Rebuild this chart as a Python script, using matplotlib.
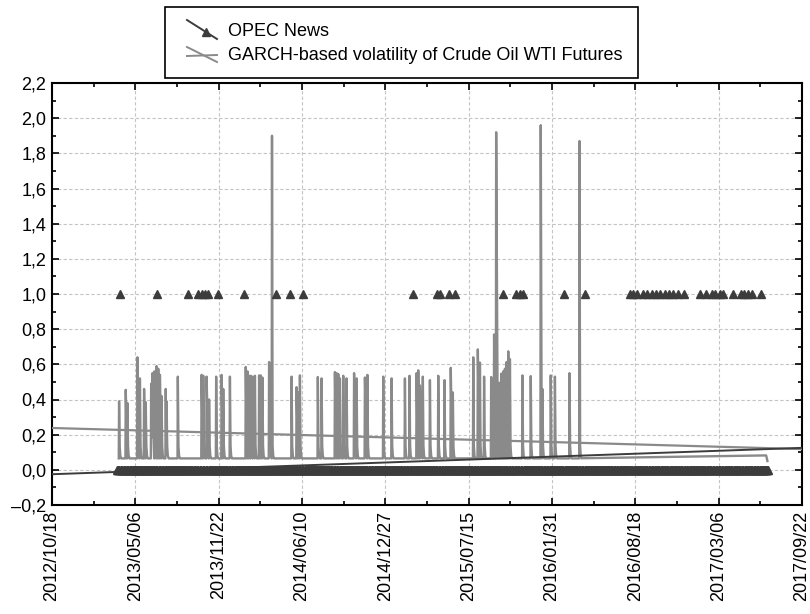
import numpy as np
import pandas as pd
import matplotlib
matplotlib.use("Agg")
import matplotlib.pyplot as plt
import matplotlib.dates as mdates
from matplotlib.lines import Line2D
from matplotlib.patches import Rectangle
from matplotlib.ticker import FuncFormatter, MultipleLocator

plt.rcParams['font.family'] = ['Liberation Sans', 'DejaVu Sans']

# --- data ---
# OPEC News: 0 on every trading day, 1 on news days
opec_first_day = "2013-03-22"
opec_last_day = "2017-07-03"
opec_news_dates = [
    "2013-03-29", "2013-06-27", "2013-09-09", "2013-10-03", "2013-10-14",
    "2013-10-21", "2013-10-28", "2013-11-20", "2014-01-22", "2014-04-09",
    "2014-05-12", "2014-06-12", "2015-03-04", "2015-04-29", "2015-05-07",
    "2015-05-29", "2015-06-12", "2015-10-06", "2015-11-05", "2015-11-16",
    "2015-11-23", "2016-02-29", "2016-04-18",
    "2016-08-04", "2016-08-12", "2016-08-23", "2016-09-06", "2016-09-16",
    "2016-09-26", "2016-10-07", "2016-10-17", "2016-10-27", "2016-11-07",
    "2016-11-17", "2016-11-28", "2016-12-12",
    "2017-01-20", "2017-02-03", "2017-02-17", "2017-02-24", "2017-03-09",
    "2017-03-16", "2017-04-10", "2017-04-28", "2017-05-05", "2017-05-16",
    "2017-05-24", "2017-06-16",
]

# GARCH volatility: calm level and the spikes on top of it
garch_base = 0.065
garch_spike_dates = [
    "2013-03-28", "2013-04-13", "2013-04-17", "2013-05-11", "2013-05-17",
    "2013-05-27", "2013-05-31", "2013-06-13", "2013-06-16", "2013-06-21",
    "2013-06-26", "2013-06-30", "2013-07-04", "2013-07-08", "2013-07-18",
    "2013-07-20", "2013-08-16", "2013-10-12", "2013-10-16", "2013-10-24",
    "2013-10-30", "2013-11-16", "2013-11-29", "2013-12-03", "2013-12-19",
    "2014-01-26", "2014-01-30", "2014-02-03", "2014-02-07", "2014-02-12",
    "2014-02-17", "2014-02-27", "2014-03-03", "2014-03-07", "2014-03-23",
    "2014-03-30", "2014-05-16", "2014-05-28", "2014-06-01", "2014-06-05",
    "2014-07-18", "2014-07-27", "2014-08-28", "2014-09-01", "2014-09-05",
    "2014-09-09", "2014-09-17", "2014-09-25", "2014-10-13", "2014-10-19",
    "2014-11-08", "2014-11-14", "2014-12-22", "2015-01-11", "2015-02-12",
    "2015-02-23", "2015-03-12", "2015-03-16", "2015-03-20", "2015-03-27",
    "2015-04-13", "2015-05-03", "2015-05-18", "2015-06-02", "2015-06-07",
    "2015-07-26", "2015-08-06", "2015-08-11", "2015-08-21", "2015-09-07",
    "2015-09-14", "2015-09-19", "2015-09-26", "2015-10-01", "2015-10-06",
    "2015-10-10", "2015-10-14", "2015-10-18", "2015-10-22", "2015-11-21",
    "2015-12-11", "2016-01-04", "2016-01-08", "2016-01-28", "2016-02-07",
    "2016-03-13", "2016-04-06",
]
garch_spike_peaks = [
    0.39, 0.455, 0.38, 0.64, 0.52,
    0.46, 0.385, 0.49, 0.55, 0.56,
    0.59, 0.575, 0.54, 0.42, 0.46,
    0.39, 0.53, 0.54, 0.535, 0.53,
    0.40, 0.53, 0.54, 0.46, 0.53,
    0.585, 0.56, 0.535, 0.535, 0.53,
    0.535, 0.537, 0.537, 0.525, 0.613,
    1.90, 0.53, 0.47, 0.44, 0.537,
    0.528, 0.52, 0.556, 0.55, 0.545,
    0.52, 0.535, 0.52, 0.55, 0.52,
    0.525, 0.54, 0.53, 0.52, 0.52,
    0.535, 0.55, 0.566, 0.48, 0.53,
    0.51, 0.535, 0.51, 0.58, 0.44,
    0.64, 0.685, 0.61, 0.53, 0.528,
    0.77, 1.92, 0.495, 0.547, 0.56,
    0.575, 0.613, 0.674, 0.63, 0.537,
    0.533, 1.96, 0.46, 0.537, 0.53,
    0.55, 1.87,
]
garch_tail_dates = ["2016-04-14", "2017-06-28", "2017-07-01"]
garch_tail_values = [0.066, 0.082, 0.05]

# linear trend lines, value at left and right end of the axis
opec_trend = [-0.025, 0.125]
garch_trend = [0.238, 0.118]

x_start, x_end = "2012-10-18", "2017-09-22"

# --- build series ---
opec_days = pd.bdate_range(opec_first_day, opec_last_day)
opec_vals = pd.Series(0.0, index=opec_days)
news = pd.to_datetime(opec_news_dates)
opec_vals.loc[opec_vals.index.isin(news)] = 1.0
# news days not on the trading calendar
extra = news[~news.isin(opec_days)]

spk = mdates.date2num(pd.to_datetime(garch_spike_dates))
pts = []
for i, (t, h) in enumerate(zip(spk, garch_spike_peaks)):
    gap_prev = t - spk[i - 1] if i > 0 else 99
    gap_next = spk[i + 1] - t if i < len(spk) - 1 else 99
    if gap_prev > 3:
        pts.append((t - 0.8, garch_base))
    pts.append((t, h))
    if gap_next > 7:
        pts.append((t + 1.5, garch_base + 0.07))
        pts.append((t + 3.0, garch_base + 0.015))
        pts.append((t + 5.0, garch_base))
    else:
        pts.append((t + gap_next * 0.55, garch_base + 0.12))
for d, v in zip(mdates.date2num(pd.to_datetime(garch_tail_dates)), garch_tail_values):
    pts.append((d, v))
pts.sort()
gx = [p[0] for p in pts]
gy = [p[1] for p in pts]

# --- plot ---
fig = plt.figure(figsize=(8.1, 6.14), dpi=100)
ax = fig.add_axes([52 / 810, 1 - 505 / 614, 750 / 810, 422 / 614])

xl = mdates.date2num(pd.to_datetime([x_start, x_end]))

ax.plot(gx, gy, color="#8a8a8a", lw=1.7, zorder=3)
ax.plot(xl, garch_trend, color="#8a8a8a", lw=1.6, zorder=3)
ax.plot(opec_vals.index, opec_vals.values, ls="none", marker="^", ms=6,
        color="#3c3c3c", zorder=4)
ax.plot(extra, np.ones(len(extra)), ls="none", marker="^", ms=6,
        color="#3c3c3c", zorder=4)
ax.plot(xl, opec_trend, color="#3c3c3c", lw=1.4, zorder=4)

ax.set_xlim(xl[0], xl[1])
ax.set_ylim(-0.2, 2.2)

ticks = pd.date_range(x_start, x_end, freq="200D")
ax.set_xticks(mdates.date2num(ticks))
ax.set_xticklabels([t.strftime("%Y/%m/%d") for t in ticks], rotation=90)
ax.set_xticks(mdates.date2num(ticks[:-1] + pd.Timedelta(days=100)), minor=True)
ax.yaxis.set_major_locator(MultipleLocator(0.2))
ax.yaxis.set_minor_locator(MultipleLocator(0.1))
ax.yaxis.set_major_formatter(FuncFormatter(
    lambda v, p: ("%.1f" % v).replace(".", ",").replace("-", "\u2013")))

ax.tick_params(which="both", direction="in", top=True, right=True,
               labelsize=13, width=1.2)
ax.tick_params(which="major", length=5, pad=4)
ax.tick_params(which="minor", length=3)
for s in ax.spines.values():
    s.set_linewidth(1.5)
ax.grid(True, which="major", color="#c4c4c4", ls=(0, (3, 2)), lw=0.8, zorder=0)

# legend box drawn above the axes
def fx(px):
    return px / 810

def fy(py):
    return 1 - py / 614

fig.add_artist(Rectangle((fx(165), fy(78)), fx(638) - fx(165), fy(7) - fy(78),
                         transform=fig.transFigure, fill=False, ec="black", lw=1.2))
fig.add_artist(Line2D([fx(187), fx(217)], [fy(20), fy(39)], color="#3c3c3c",
                      lw=1.4, transform=fig.transFigure))
fig.add_artist(Line2D([fx(206)], [fy(32)], marker="^", ms=6, color="#3c3c3c",
                      transform=fig.transFigure))
fig.add_artist(Line2D([fx(187), fx(217)], [fy(47), fy(62)], color="#8a8a8a",
                      lw=1.4, transform=fig.transFigure))
fig.add_artist(Line2D([fx(187), fx(217)], [fy(56), fy(55)], color="#8a8a8a",
                      lw=1.4, transform=fig.transFigure))
fig.text(fx(228), fy(32), "OPEC News", fontsize=13, va="center", ha="left")
fig.text(fx(228), fy(56), "GARCH-based volatility of Crude Oil WTI Futures",
         fontsize=13, va="center", ha="left")

fig.savefig("out.png", dpi=100)
